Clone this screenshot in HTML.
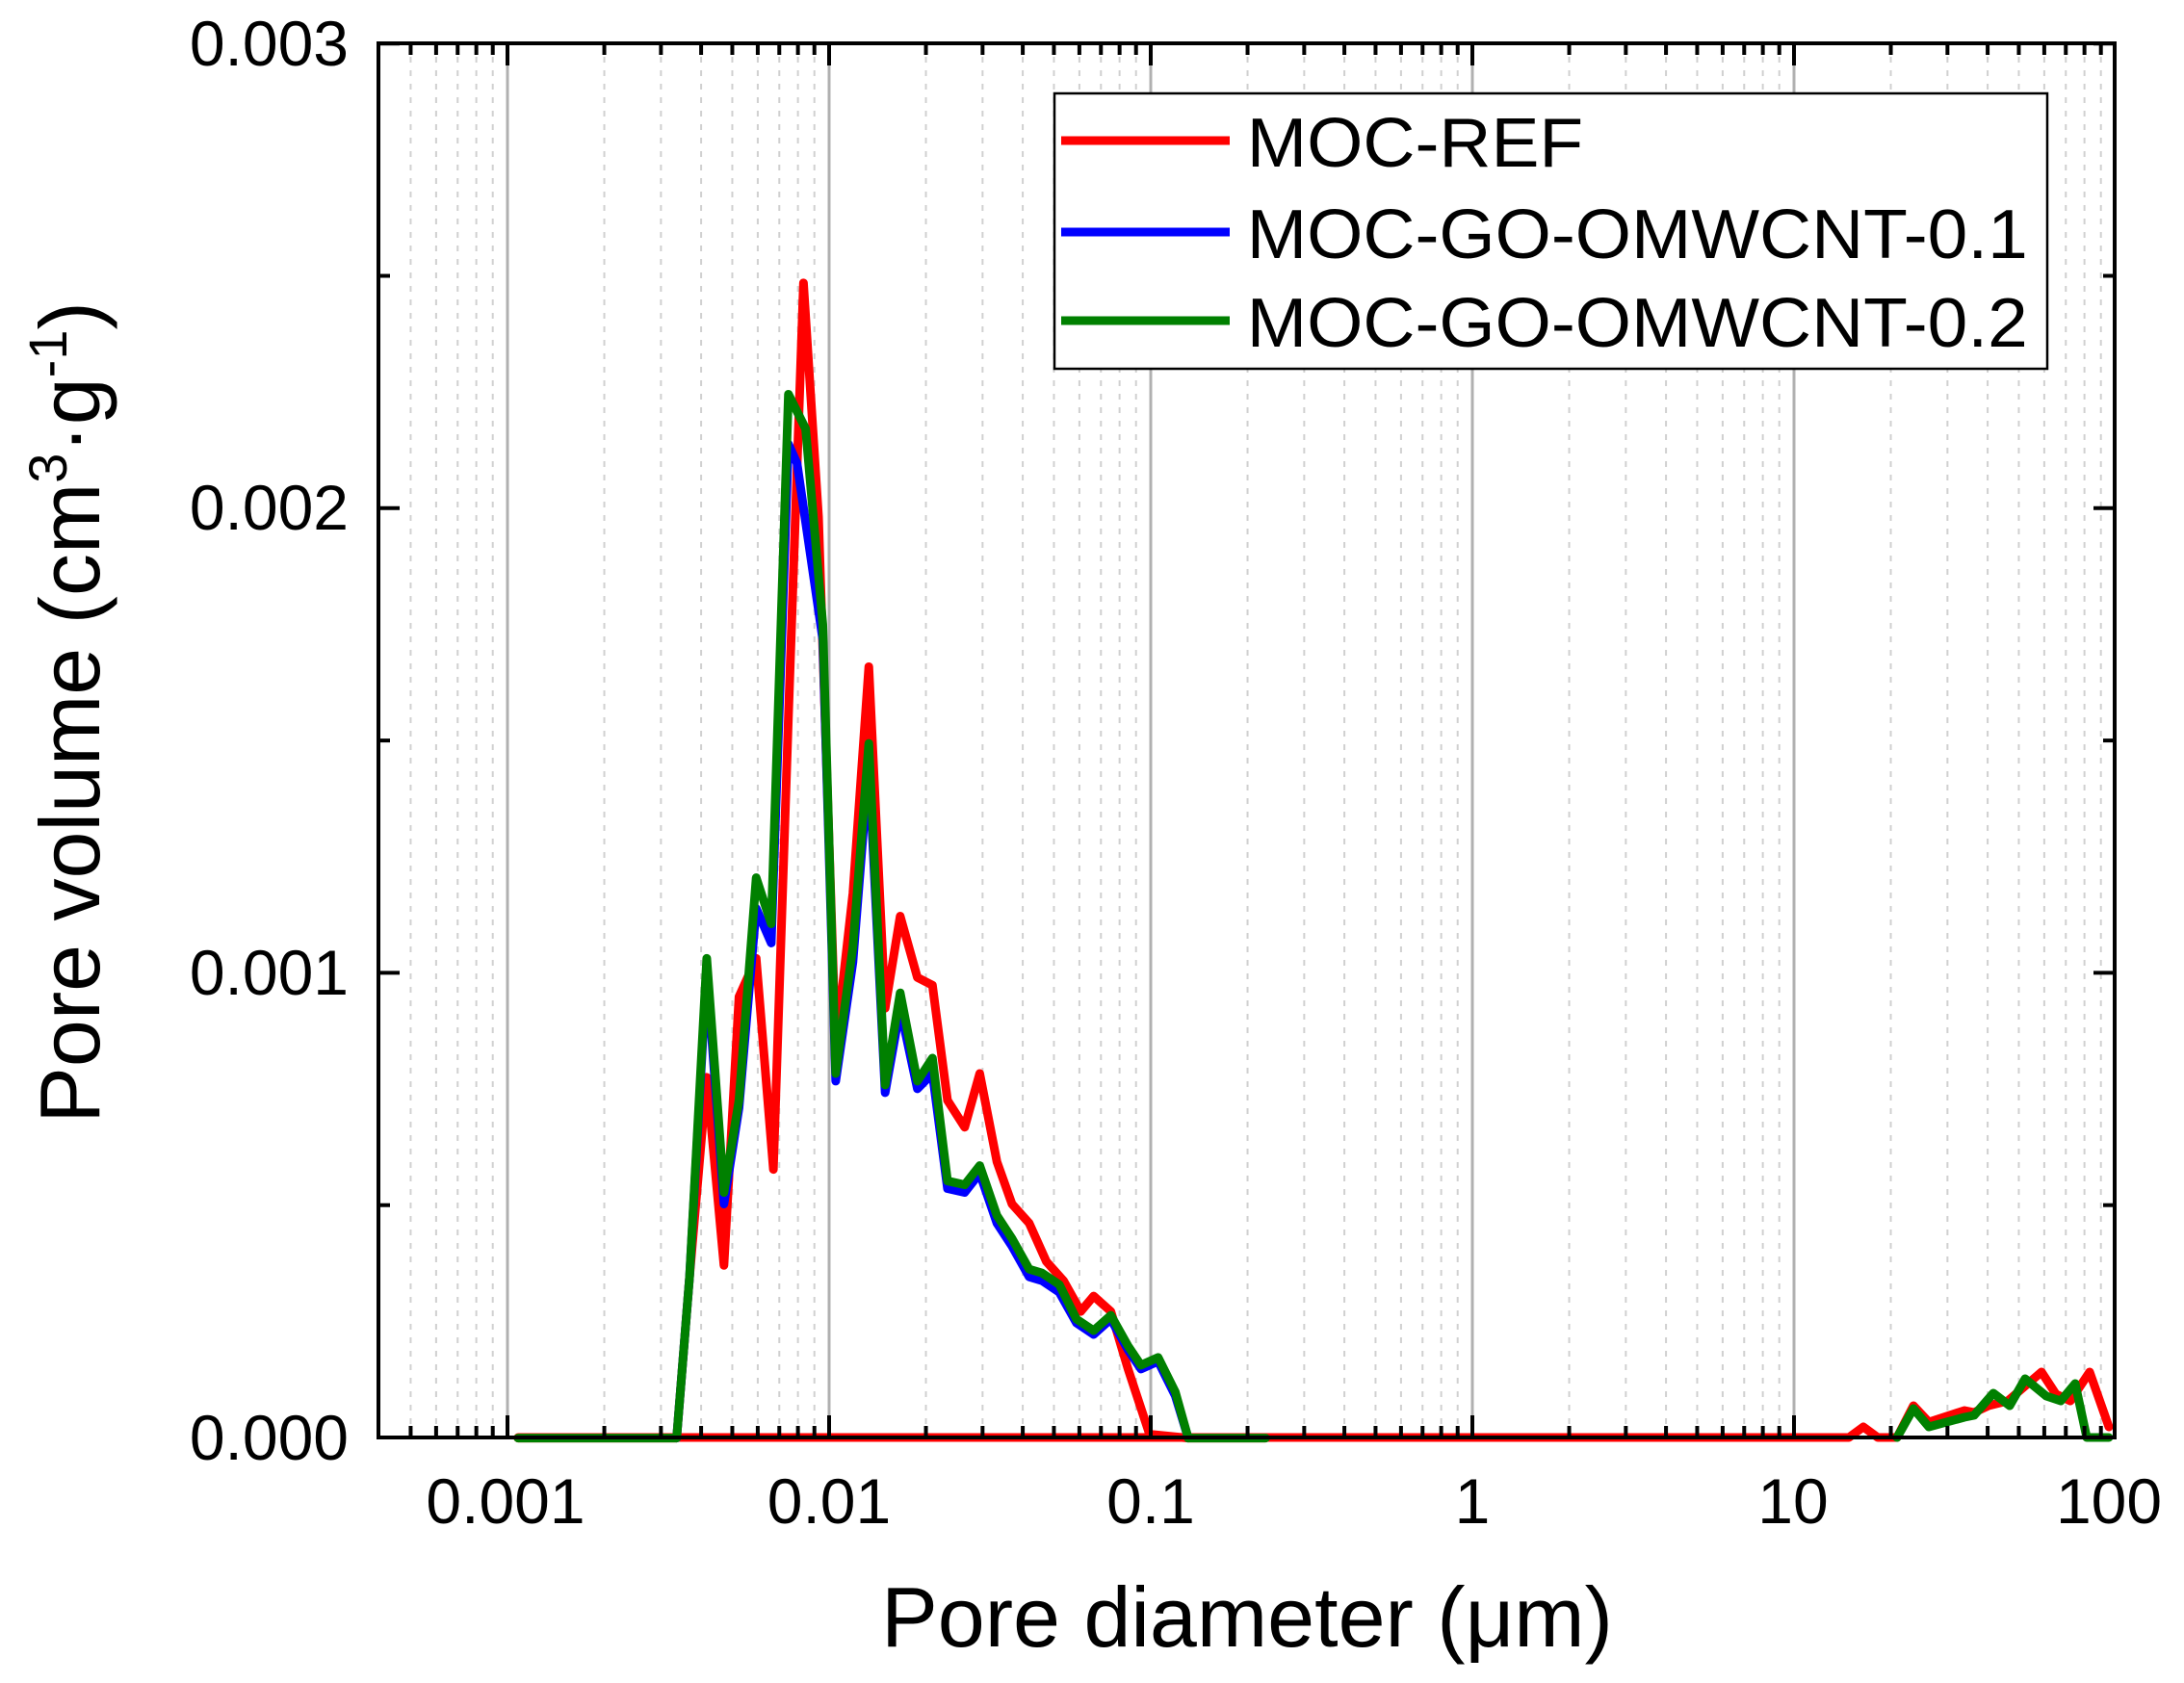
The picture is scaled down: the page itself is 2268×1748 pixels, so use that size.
<!DOCTYPE html>
<html><head><meta charset="utf-8"><style>
html,body{margin:0;padding:0;background:#fff}
svg{display:block}
text{font-family:"Liberation Sans",Arial,sans-serif;fill:#000}
</style></head><body>
<svg width="2268" height="1748" viewBox="0 0 2268 1748" xmlns="http://www.w3.org/2000/svg">
<rect width="2268" height="1748" fill="#fff"/>
<g id="grid"></g>
<g fill="none" stroke-linejoin="round" stroke-linecap="round">
<polyline stroke="#ff0000" stroke-width="9" points="538,1493 1920,1493 1935,1482 1950,1493 1970,1493 1987,1460 2003,1477 2040,1465 2050,1467 2065,1460 2085,1455 2120,1425 2135,1448 2150,1455 2170,1425 2190,1482"/>
<polyline stroke="#008000" stroke-width="9" points="1970,1493 1987,1463 2003,1482 2040,1472 2050,1470 2070,1447 2087,1460 2103,1432 2125,1450 2140,1455 2155,1437 2167,1493 2190,1493"/>
<g transform="translate(600,250) scale(0.44643,0.79719)">
<polyline vector-effect="non-scaling-stroke" stroke="#ff0000" stroke-width="9" points="-139,1560 230,1560 260,1350 300,1090 340,1335 375,985 415,935 455,1210 490,620 525,55 560,360 600,1050 640,850 677,555 715,1000 750,880 790,960 825,970 860,1120 900,1155 935,1085 975,1200 1010,1255 1050,1280 1090,1330 1130,1355 1170,1395 1200,1375 1240,1395 1280,1470 1330,1555 1420,1560 1600,1560"/>
<polyline vector-effect="non-scaling-stroke" stroke="#0000ff" stroke-width="9" points="230,1560 260,1350 300,950 340,1255 375,1130 415,870 450,915 490,265 510,290 570,520 600,1095 640,940 677,680 715,1110 750,1000 790,1105 825,1085 860,1235 900,1240 935,1215 975,1280 1010,1310 1050,1350 1080,1355 1120,1370 1160,1410 1200,1425 1240,1405 1280,1445 1310,1470 1350,1460 1390,1505 1420,1560"/>
<polyline vector-effect="non-scaling-stroke" stroke="#008000" stroke-width="9" points="-139,1560 230,1560 260,1350 300,935 340,1240 375,1120 415,830 450,890 490,200 530,245 570,500 600,1085 640,920 677,655 715,1100 750,980 790,1095 825,1065 860,1225 900,1230 935,1205 975,1270 1010,1300 1050,1340 1080,1345 1120,1360 1160,1405 1200,1420 1240,1400 1280,1440 1310,1465 1350,1455 1390,1500 1420,1560 1600,1560"/>
</g>
</g>
<rect x="393" y="45" width="1803" height="1448" fill="none" stroke="#000" stroke-width="4"/>
<g id="ticks" stroke="#000" stroke-width="4"></g>
<rect x="1095" y="97" width="1031" height="286" fill="#fff" stroke="#000" stroke-width="2.5"/>
<line x1="1102" y1="146" x2="1277" y2="146" stroke="#ff0000" stroke-width="9"/>
<line x1="1102" y1="241" x2="1277" y2="241" stroke="#0000ff" stroke-width="9"/>
<line x1="1102" y1="333" x2="1277" y2="333" stroke="#008000" stroke-width="9"/>
<g font-size="72" transform="scale(1.04,1)">
<text x="1245" y="173">MOC-REF</text>
<text x="1245" y="268">MOC-GO-OMWCNT-0.1</text>
<text x="1245" y="360">MOC-GO-OMWCNT-0.2</text>
</g>
<g font-size="66" text-anchor="end">
<text x="362" y="68">0.003</text>
<text x="362" y="550">0.002</text>
<text x="362" y="1033">0.001</text>
<text x="362" y="1516">0.000</text>
</g>
<g font-size="66" text-anchor="middle">
<text x="525" y="1582">0.001</text>
<text x="861" y="1582">0.01</text>
<text x="1195" y="1582">0.1</text>
<text x="1529" y="1582">1</text>
<text x="1862" y="1582">10</text>
<text x="2190" y="1582">100</text>
</g>
<text x="1295" y="1710" font-size="88" text-anchor="middle">Pore diameter (μm)</text>
<text transform="translate(103,740) rotate(-90)" font-size="88" text-anchor="middle">Pore volume (cm<tspan font-size="56" dy="-34">3</tspan><tspan dy="34">·g</tspan><tspan font-size="56" dy="-34">-1</tspan><tspan dy="34">)</tspan></text>
<script>
(function(){
var ns="http://www.w3.org/2000/svg",g=document.getElementById("grid"),t=document.getElementById("ticks");
function X(v){return 861+334*Math.log10(v/0.01);}
function ln(p,a){var e=document.createElementNS(ns,"line");for(var k in a)e.setAttribute(k,a[k]);p.appendChild(e);}
for(var d=-4;d<=2;d++){for(var m=1;m<=9;m++){var v=m*Math.pow(10,d),x=X(v);if(x<395||x>2194)continue;
 if(m==1){ln(g,{x1:x,y1:45,x2:x,y2:1493,stroke:"#b0b0b0","stroke-width":3});
  ln(t,{x1:x,y1:1493,x2:x,y2:1470});ln(t,{x1:x,y1:45,x2:x,y2:68});}
 else{ln(g,{x1:x,y1:45,x2:x,y2:1493,stroke:"#d0d0d0","stroke-width":2,"stroke-dasharray":"6,8"});
  ln(t,{x1:x,y1:1493,x2:x,y2:1481});ln(t,{x1:x,y1:45,x2:x,y2:57});}}}
for(var i=0;i<=6;i++){var y=1493-i*241.3,L=(i%2==0)?22:12;
 ln(t,{x1:393,y1:y,x2:393+L,y2:y});ln(t,{x1:2196,y1:y,x2:2196-L,y2:y});}
})();
</script>
</svg>
</body></html>
